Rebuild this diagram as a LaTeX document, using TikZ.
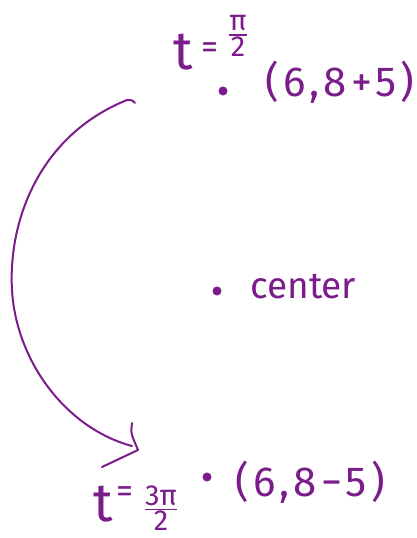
\documentclass[tikz,border=0pt]{standalone}
\usepackage{fontspec}
\setmainfont{Fira Sans}
\definecolor{ink}{RGB}{122,28,138}
\begin{document}
\begin{tikzpicture}[x=1pt,y=-1pt,
  dot/.style={circle,fill=ink,inner sep=0pt,minimum size=9pt},
  lbl/.style={text=ink,inner sep=0pt,font=\fontsize{42}{42}\selectfont\addfontfeature{LetterSpace=10}},
  tlbl/.style={text=ink,inner sep=0pt},
  eqlbl/.style={text=ink,inner sep=0pt,font=\fontsize{34}{34}\selectfont},
  stroke/.style={draw=ink,line width=2pt,line cap=round,line join=round}]
\useasboundingbox (0,0) rectangle (416,538);
% dots
\node[dot] (top) at (223,91) {};
\node[dot] (ctr) at (217,291) {};
\node[dot] (bot) at (207,477) {};
% labels
\node[lbl,anchor=west] (topcoord) at (265,82) {(6,8+5)};
\node[lbl,anchor=west] (botcoord) at (235,482) {(6,8−5)};
\node[tlbl,anchor=base west,font=\fontsize{37}{37}\selectfont] (ctrlbl) at (250,298) {center};
% top parameter label
\node[tlbl,font=\fontsize{54}{54}\selectfont] (ttop) at (183,52) {t};
\node[eqlbl] (eqtop) at (210,51) {=};
\node[tlbl] (ftop) at (238,36) {\scalebox{2.9}{$\frac{\mbox{π}}{\mbox{2}}$}};
% bottom parameter label
\node[tlbl,font=\fontsize{54}{54}\selectfont] (tbot) at (103,504) {t};
\node[eqlbl] (eqbot) at (125,495) {=};
\node[tlbl] (fbot) at (161,508) {\scalebox{2.9}{$\frac{\mbox{3π}}{\mbox{2}}$}};
% arc
\coordinate (a0) at (135,103);
\coordinate (a1) at (127,100);
\coordinate (am) at (12,290);
\coordinate (a9) at (132,446);
\draw[stroke] (a0) .. controls (132,100) .. (a1)
  .. controls (40,135) and (8,220) .. (am)
  .. controls (16,360) and (65,428) .. (a9);
\coordinate (h1) at (132,423);
\coordinate (h2) at (138,450);
\coordinate (h3) at (102,467);
\draw[stroke] (h1) .. controls (131,432) .. (133,438) -- (h2) -- (h3);
\end{tikzpicture}
\end{document}
